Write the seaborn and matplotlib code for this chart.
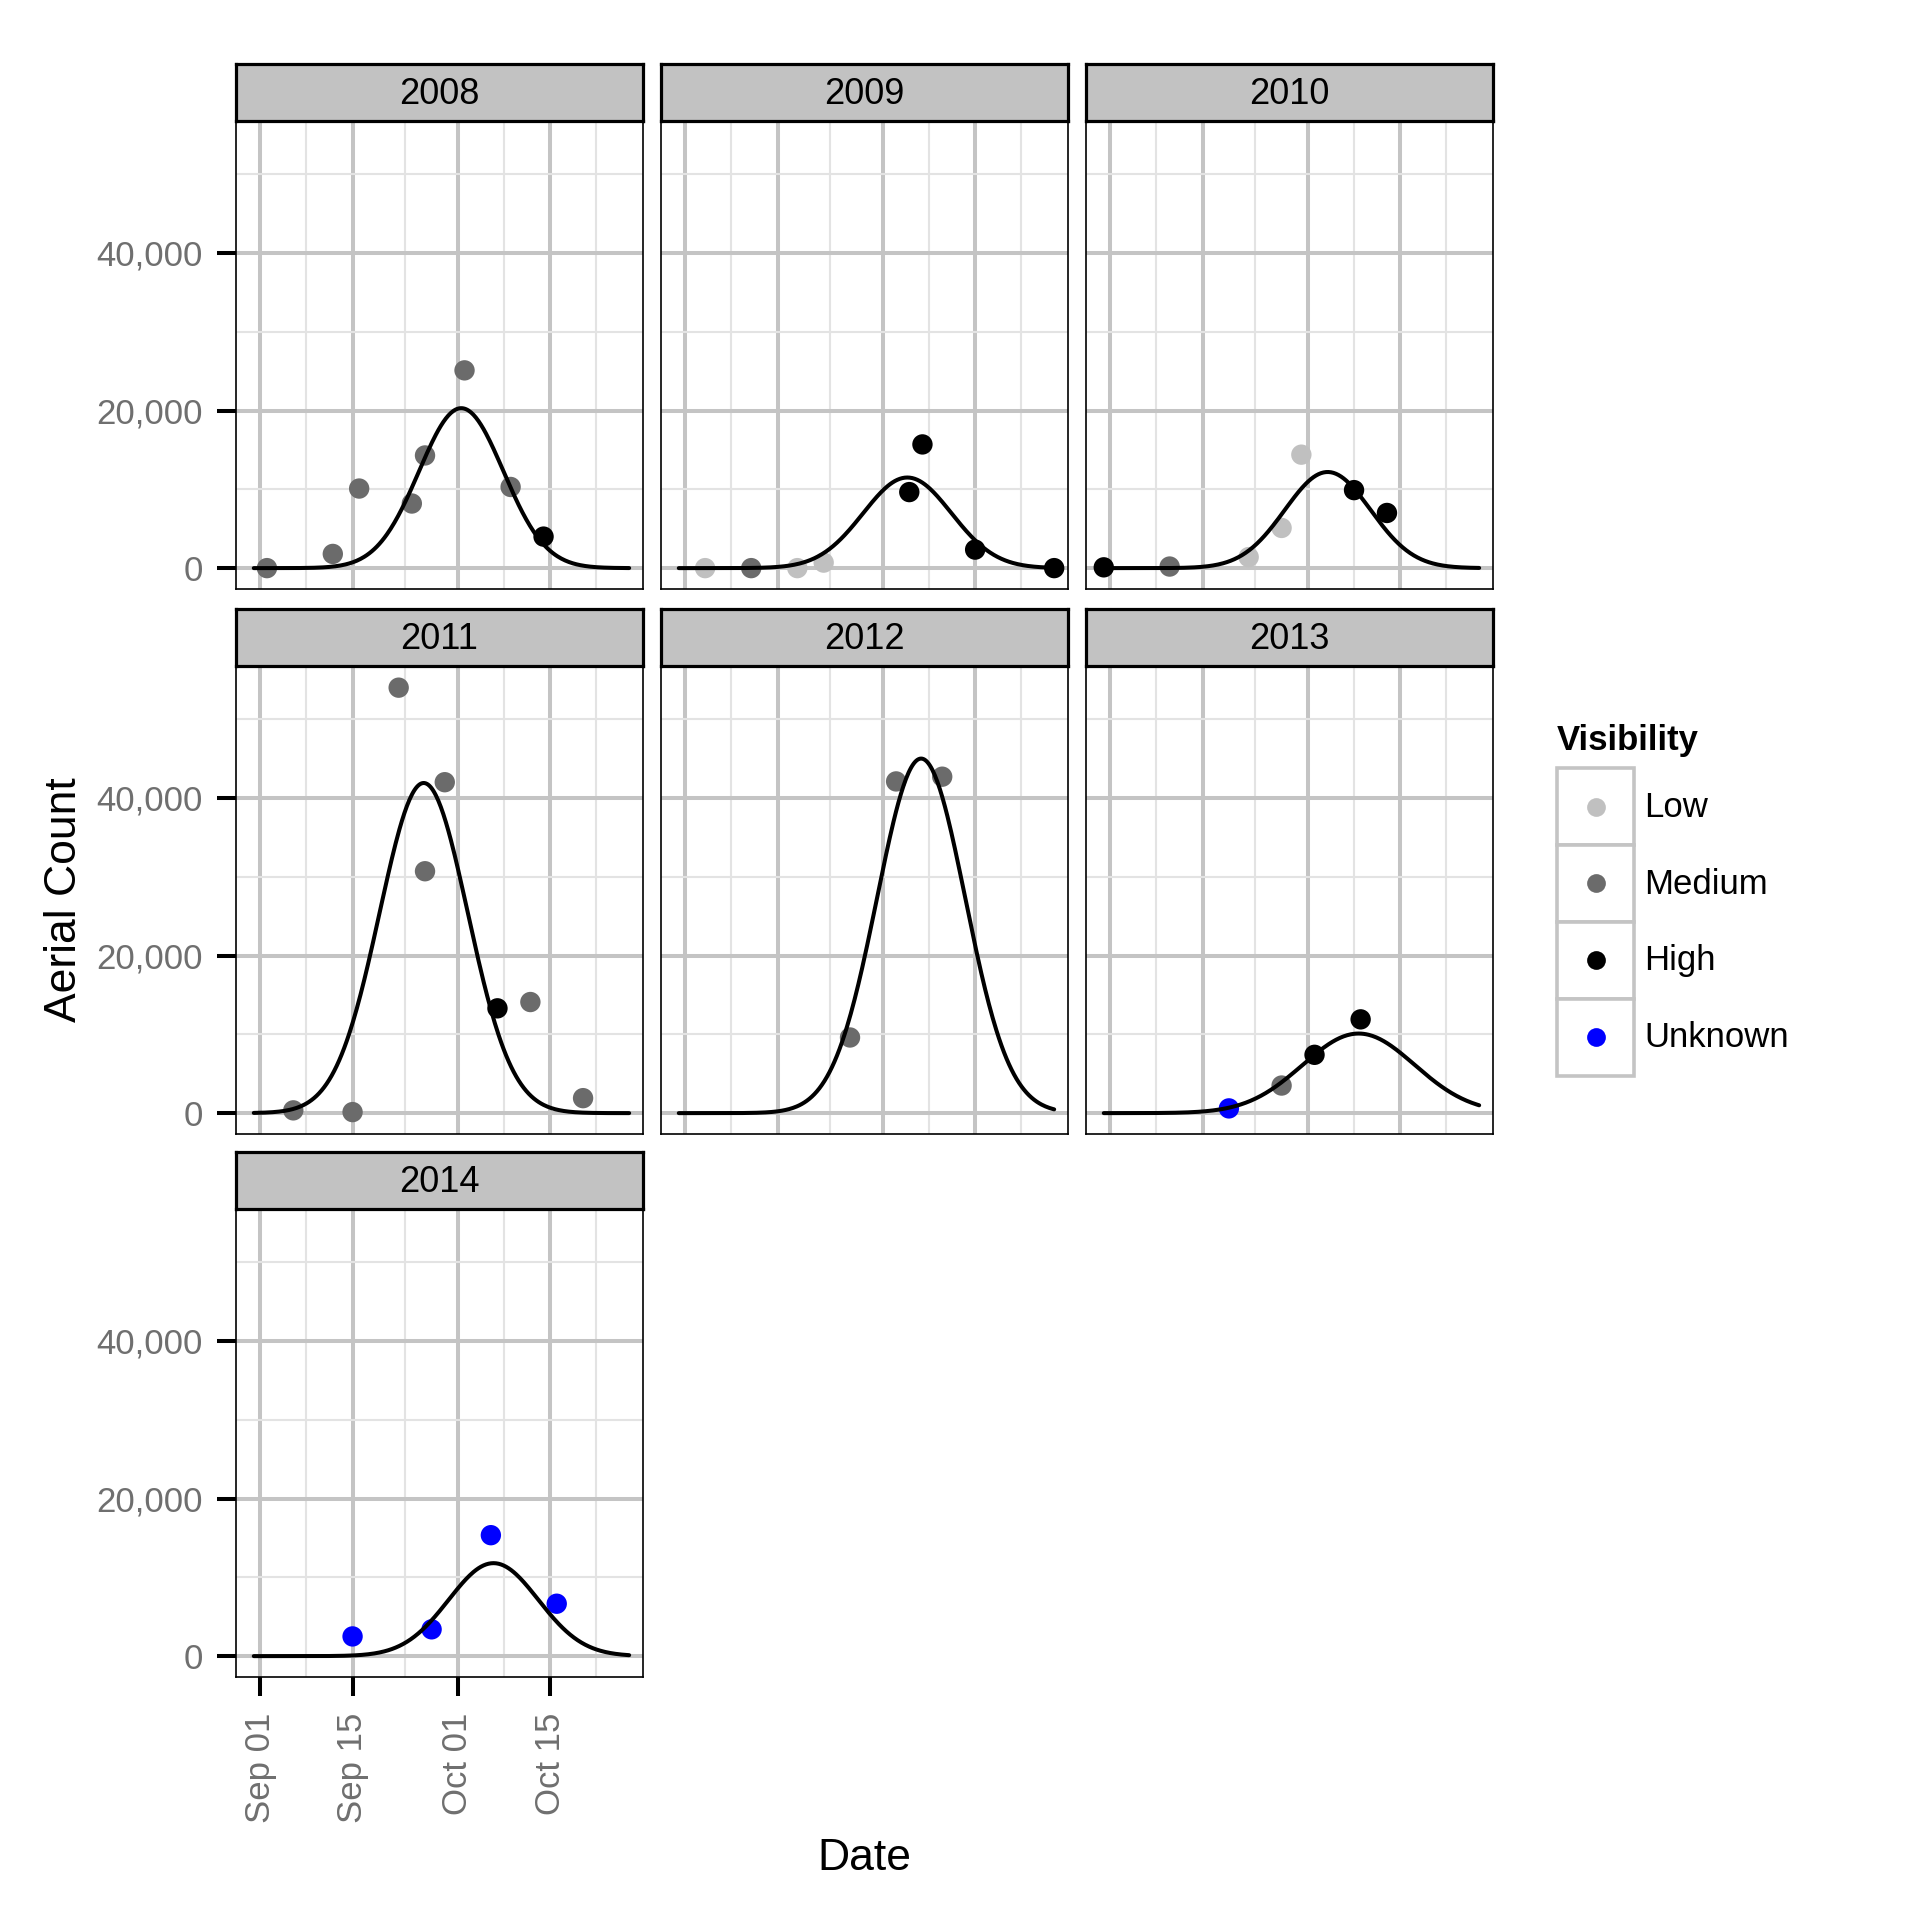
import numpy as np
import pandas as pd
import matplotlib
matplotlib.use("Agg")
import matplotlib.pyplot as plt
from matplotlib.patches import Rectangle
from matplotlib.lines import Line2D
from matplotlib.legend_handler import HandlerBase
import seaborn as sns

# --- data --------------------------------------------------------------
years = [2008, 2009, 2010, 2011, 2012, 2013, 2014]

# survey dates (month-day), aerial counts and visibility for each season
dates_2008 = ["09-02", "09-12", "09-16", "09-24", "09-26", "10-02", "10-09", "10-14"]
counts_2008 = [0, 1800, 10100, 8200, 14300, 25100, 10300, 4000]
vis_2008 = ["Medium", "Medium", "Medium", "Medium", "Medium", "Medium", "Medium", "High"]

dates_2009 = ["09-04", "09-11", "09-18", "09-22", "10-05", "10-07", "10-15", "10-27"]
counts_2009 = [0, 0, 0, 700, 9650, 15700, 2350, 0]
vis_2009 = ["Low", "Medium", "Low", "Low", "High", "High", "High", "High"]

dates_2010 = ["08-31", "09-10", "09-22", "09-27", "09-30", "10-08", "10-13"]
counts_2010 = [100, 200, 1400, 5100, 14400, 9900, 7000]
vis_2010 = ["High", "Medium", "Low", "Low", "Low", "High", "High"]

dates_2011 = ["09-06", "09-15", "09-22", "09-26", "09-29", "10-07", "10-12", "10-20"]
counts_2011 = [350, 130, 54000, 30700, 42000, 13300, 14100, 1900]
vis_2011 = ["Medium", "Medium", "Medium", "Medium", "Medium", "High", "Medium", "Medium"]

dates_2012 = ["09-26", "10-03", "10-10"]
counts_2012 = [9600, 42100, 42700]
vis_2012 = ["Medium", "Medium", "Medium"]

dates_2013 = ["09-19", "09-27", "10-02", "10-09"]
counts_2013 = [600, 3500, 7400, 11900]
vis_2013 = ["Unknown", "Medium", "High", "High"]

dates_2014 = ["09-15", "09-27", "10-06", "10-16"]
counts_2014 = [2500, 3400, 15350, 6650]
vis_2014 = ["Unknown", "Unknown", "Unknown", "Unknown"]

# fitted seasonal curve per year: peak day (days after Sep 1), peak count, spread (days)
curve_peak_day = [30.5, 33.7, 33.0, 24.8, 35.8, 37.7, 35.4]
curve_peak_count = [20300, 11500, 12200, 41900, 45000, 10100, 11800]
curve_spread = [6.4, 6.7, 6.5, 6.7, 6.7, 8.5, 6.8]
curve_start, curve_end = "08-31", "10-27"

vis_levels = ["Low", "Medium", "High", "Unknown"]
vis_colors = ["#c0c0c0", "#6b6b6b", "#000000", "#0000ff"]

x_tick_dates = ["09-01", "09-15", "10-01", "10-15"]
x_minor_dates = ["09-08", "09-23", "10-08", "10-22"]
x_tick_labels = ["Sep 01", "Sep 15", "Oct 01", "Oct 15"]
y_ticks = [0, 20000, 40000]
y_minor = [10000, 30000, 50000]
y_tick_labels = ["0", "20,000", "40,000"]

obs = {
    2008: (dates_2008, counts_2008, vis_2008),
    2009: (dates_2009, counts_2009, vis_2009),
    2010: (dates_2010, counts_2010, vis_2010),
    2011: (dates_2011, counts_2011, vis_2011),
    2012: (dates_2012, counts_2012, vis_2012),
    2013: (dates_2013, counts_2013, vis_2013),
    2014: (dates_2014, counts_2014, vis_2014),
}


def day_of_season(md, year=2001):
    # days after Sep 1 of the same year
    return (pd.Timestamp(f"{year}-{md}") - pd.Timestamp(f"{year}-09-01")).days


rows = []
for yr, (d, c, v) in obs.items():
    for md, cnt, vis in zip(d, c, v):
        rows.append({"year": yr, "day": day_of_season(md, yr), "count": cnt, "Visibility": vis})
df = pd.DataFrame(rows)

palette = dict(zip(vis_levels, vis_colors))

# --- figure ---------------------------------------------------------------
sns.set_theme(style="white")
plt.rcParams["font.family"] = ["Liberation Sans", "DejaVu Sans"]
plt.rcParams["text.color"] = "black"

W = H = 1920
fig = plt.figure(figsize=(19.2, 19.2), dpi=100, facecolor="white")


def box(l, t, r, b):
    return [l / W, 1 - b / H, (r - l) / W, (b - t) / H]


col_left = [236, 661, 1086]
row_top = [64, 609, 1152]
panel_w, strip_h, panel_h = 407, 57, 468
tick_grey = "#6f6f6f"
grid_major = "#c4c4c4"

xt = [day_of_season(m) for m in x_tick_dates]
xm = [day_of_season(m) for m in x_minor_dates]
cx = np.linspace(day_of_season(curve_start), day_of_season(curve_end), 300)

for i, yr in enumerate(years):
    r, c = divmod(i, 3)
    left, top = col_left[c], row_top[r]
    ax = fig.add_axes(box(left, top + strip_h, left + panel_w, top + strip_h + panel_h))
    strip = fig.add_axes(box(left, top, left + panel_w, top + strip_h))

    sub = df[df["year"] == yr]
    sns.scatterplot(data=sub, x="day", y="count", hue="Visibility", hue_order=vis_levels,
                    palette=palette, s=215, linewidth=0, legend=False, ax=ax, zorder=2)
    cy = curve_peak_count[i] * np.exp(-0.5 * ((cx - curve_peak_day[i]) / curve_spread[i]) ** 2)
    sns.lineplot(x=cx, y=cy, color="black", lw=2.9, ax=ax, zorder=3)

    ax.set_xlim(-3.7, 58.1)
    ax.set_ylim(-2650, 56750)
    ax.set_xticks(xt)
    ax.set_xticks(xm, minor=True)
    ax.set_yticks(y_ticks)
    ax.set_yticks(y_minor, minor=True)
    ax.grid(which="major", color=grid_major, lw=2.9)
    ax.grid(which="minor", color="#e3e3e3", lw=1.5)
    ax.set_axisbelow(True)
    ax.set_xlabel("")
    ax.set_ylabel("")
    for s in ax.spines.values():
        s.set_color("black")
        s.set_linewidth(1.2)
    ax.tick_params(which="minor", length=0)

    if c == 0:
        ax.set_yticklabels(y_tick_labels)
        ax.tick_params(axis="y", which="major", left=True, length=13.5, width=2.9,
                       color="black", labelsize=25, labelcolor=tick_grey, pad=10.5)
    else:
        ax.tick_params(axis="y", which="major", left=False, labelleft=False)
    if yr == years[-1]:
        ax.set_xticklabels(x_tick_labels, rotation=90)
        ax.tick_params(axis="x", which="major", bottom=True, length=13.5, width=2.9,
                       color="black", labelsize=25, labelcolor=tick_grey, pad=12)
    else:
        ax.tick_params(axis="x", which="major", bottom=False, labelbottom=False)

    strip.set_facecolor("#c2c2c2")
    strip.set_xticks([])
    strip.set_yticks([])
    for s in strip.spines.values():
        s.set_color("black")
        s.set_linewidth(2.3)
    strip.text(0.5, 0.46, str(yr), ha="center", va="center", fontsize=26, color="black",
               transform=strip.transAxes)

fig.text(64 / W, 1 - 900 / H, "Aerial Count", rotation=90, ha="center", va="center",
         fontsize=32, color="black")
fig.text(864 / W, 1 - 1858 / H, "Date", ha="center", va="center", fontsize=32, color="black")


# legend: each key is a grey-edged square with the point centred in it
class BoxedDotHandler(HandlerBase):
    def create_artists(self, legend, orig_handle, xdescent, ydescent, width, height,
                       fontsize, trans):
        key_box = Rectangle((-xdescent, -ydescent), width, height, facecolor="white",
                            edgecolor=grid_major, lw=2.6, transform=trans)
        dot = Line2D([width / 2 - xdescent], [height / 2 - ydescent], ls="", marker="o",
                     markersize=13.5, markeredgewidth=0, color=orig_handle.get_color(),
                     transform=trans)
        return [key_box, dot]


handles = [Line2D([], [], ls="", marker="o", color=col) for col in vis_colors]
leg = fig.legend(handles, vis_levels, handler_map={Line2D: BoxedDotHandler()},
                 loc="upper left", bbox_to_anchor=(1557 / W, 1 - 724 / H), frameon=False,
                 fontsize=25, title="Visibility", alignment="left",
                 title_fontproperties={"weight": "bold", "size": 25},
                 handlelength=2.22, handleheight=3.03, labelspacing=0, handletextpad=0.3,
                 borderpad=0, borderaxespad=0)
for t in leg.get_texts():
    t.set_color("black")
leg.get_title().set_color("black")
leg._legend_box.sep = 8

fig.savefig("out.png", dpi=100, facecolor="white")
